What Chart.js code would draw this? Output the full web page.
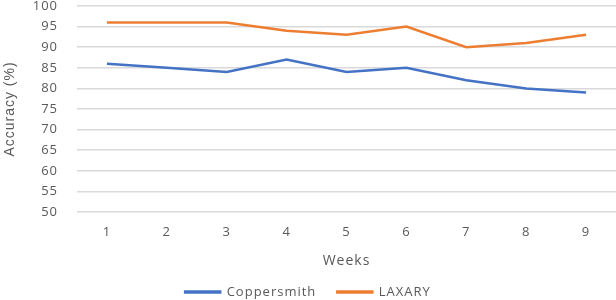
<!DOCTYPE html>
<html>
<head>
<meta charset="utf-8">
<script src="https://cdn.jsdelivr.net/npm/chart.js@4.4.1/dist/chart.umd.min.js"></script>
<style>
html,body{margin:0;padding:0;background:#fff;}
#wrap{width:616px;height:300px;position:relative;}
</style>
</head>
<body>
<div id="wrap"><canvas id="c" width="616" height="300"></canvas></div>
<script>
const weeks = ['1','2','3','4','5','6','7','8','9'];
const coppersmith = [86, 85, 84, 87, 84, 85, 82, 80, 79];
const laxary = [96, 96, 96, 94, 93, 95, 90, 91, 93];
const yMin = 50, yMax = 100, yStep = 5;

const textColor = '#595959';
const gridColor = '#d9d9d9';
const spacing = {
  id: 'spacing',
  beforeUpdate(chart){ chart.ctx.letterSpacing = '1px'; },
  beforeDraw(chart){ chart.ctx.letterSpacing = '1px'; }
};

new Chart(document.getElementById('c'), {
  type: 'line',
  data: {
    labels: weeks,
    datasets: [
      {label: 'Coppersmith', data: coppersmith, borderColor: '#4472C4', backgroundColor: '#4472C4', borderWidth: 2.5, pointRadius: 0, tension: 0},
      {label: 'LAXARY', data: laxary, borderColor: '#ED7D31', backgroundColor: '#ED7D31', borderWidth: 2.5, pointRadius: 0, tension: 0}
    ]
  },
  options: {
    responsive: false,
    animation: false,
    layout: {padding: {left: 0, right: 0, top: 6, bottom: -8.5}},
    plugins: {
      tooltip: {enabled: false},
      legend: {
        position: 'bottom',
        labels: {
          color: textColor,
          font: {family: 'Open Sans', size: 13},
          boxWidth: 35,
          boxHeight: 1,
          padding: 21
        }
      }
    },
    scales: {
      x: {
        offset: true,
        grid: {display: false, drawTicks: false},
        border: {display: false},
        ticks: {color: textColor, font: {family: 'Open Sans', size: 13}, padding: 12},
        title: {display: true, text: 'Weeks', color: textColor, font: {family: 'Open Sans', size: 14, lineHeight: 1}, padding: {top: 4, bottom: -4}},
        afterFit(s){ s.height = 52.5; }
      },
      y: {
        min: yMin, max: yMax,
        grid: {color: gridColor, lineWidth: 1.5, drawTicks: false},
        border: {display: false},
        ticks: {stepSize: yStep, autoSkip: false, color: textColor, font: {family: 'Open Sans', size: 13}, padding: 19},
        title: {display: true, text: 'Accuracy (%)', color: textColor, font: {family: 'Liberation Sans', size: 14}, padding: {top: 2, bottom: 2}},
        afterFit(s){ s.width = 77; s.paddingTop = 0; s.paddingBottom = 0; }
      }
    }
  },
  plugins: [spacing]
});
</script>
</body>
</html>
